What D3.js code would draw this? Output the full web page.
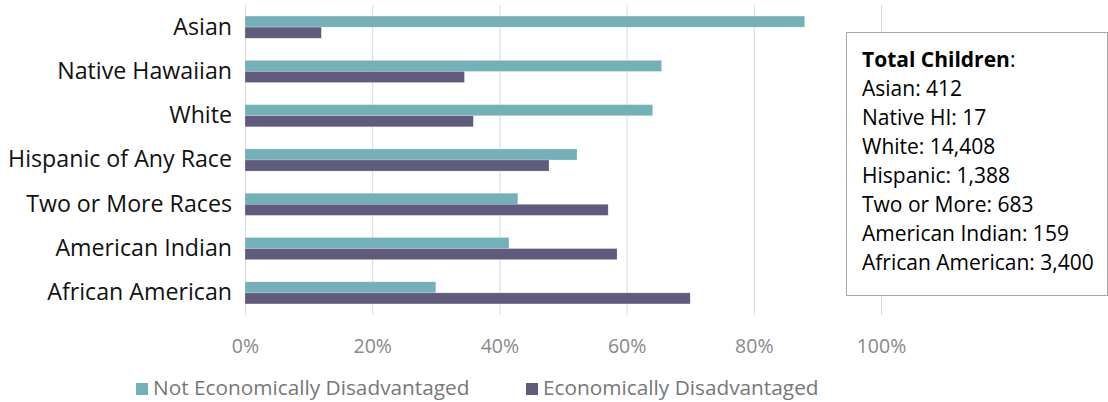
<!DOCTYPE html>
<html>
<head>
<meta charset="utf-8">
<script src="https://cdn.jsdelivr.net/npm/d3@7"></script>
<style>
  html, body { margin: 0; padding: 0; background: #ffffff; }
  svg { display: block; font-family: "Open Sans", "DejaVu Sans", sans-serif; }
</style>
</head>
<body>
<svg id="chart" width="1108" height="402"></svg>
<script>
// ---- data ----
const categories = ["Asian", "Native Hawaiian", "White", "Hispanic of Any Race", "Two or More Races", "American Indian", "African American"];
const seriesNames = ["Not Economically Disadvantaged", "Economically Disadvantaged"];
const notDisadvantaged = [0.88, 0.655, 0.641, 0.522, 0.429, 0.415, 0.30];
const disadvantaged = [0.12, 0.345, 0.359, 0.478, 0.571, 0.585, 0.70];
const tickValues = [0, 0.2, 0.4, 0.6, 0.8, 1.0];
const boxTitle = "Total Children";
const boxLines = ["Asian: 412", "Native HI: 17", "White: 14,408", "Hispanic: 1,388", "Two or More: 683", "American Indian: 159", "African American: 3,400"];
const colors = ["#73b0b7", "#605b7d"];

// ---- layout ----
const svg = d3.select("#chart");
const plot = { left: 245, right: 881, top: 5, bottom: 315 };

const x = d3.scaleLinear().domain([0, 1]).range([plot.left, plot.right]);
const y = d3.scaleBand().domain(categories).range([plot.top, plot.bottom]).paddingInner(0).paddingOuter(0);
const ySub = d3.scaleBand().domain(seriesNames).range([y.bandwidth() * 0.25, y.bandwidth() * 0.75]);

// gridlines
const grid = svg.append("g")
  .attr("transform", `translate(0,${plot.bottom})`)
  .call(d3.axisBottom(x).tickValues(tickValues).tickSize(-(plot.bottom - plot.top)).tickFormat(""));
grid.select(".domain").remove();
grid.selectAll(".tick line").attr("stroke", "#d9d9d9").attr("stroke-width", 1);

// tick labels
const xAxis = svg.append("g")
  .attr("transform", `translate(0,${plot.bottom})`)
  .call(d3.axisBottom(x).tickValues(tickValues).tickSize(0).tickPadding(0).tickFormat(d3.format(".0%")));
xAxis.select(".domain").remove();
xAxis.selectAll(".tick text")
  .attr("y", 31).attr("dy", "0.35em")
  .attr("fill", "#888888")
  .style("font-size", "19.5px")
  .style("font-family", "'Open Sans', sans-serif");

// category labels
const yAxis = svg.append("g")
  .attr("transform", `translate(${plot.left},0)`)
  .call(d3.axisLeft(y).tickSize(0).tickPadding(13));
yAxis.select(".domain").remove();
yAxis.selectAll(".tick text")
  .attr("fill", "#111111")
  .style("font-size", "23.2px")
  .style("font-family", "'Open Sans', sans-serif");

// bars
const series = [notDisadvantaged, disadvantaged];
const groups = svg.append("g").selectAll("g")
  .data(seriesNames)
  .join("g")
  .attr("fill", (d, i) => colors[i]);
groups.selectAll("rect")
  .data((s, si) => categories.map((c, ci) => ({ c, s, v: series[si][ci] })))
  .join("rect")
  .attr("x", x(0))
  .attr("y", d => y(d.c) + ySub(d.s))
  .attr("width", d => x(d.v) - x(0))
  .attr("height", ySub.bandwidth())
  .attr("stroke", "#ffffff")
  .attr("stroke-opacity", 0.35)
  .attr("stroke-width", 0.6);

// text box
const box = svg.append("g");
box.append("rect")
  .attr("x", 846.5).attr("y", 32.5)
  .attr("width", 261).attr("height", 263)
  .attr("fill", "#ffffff")
  .attr("stroke", "#a6a6a6").attr("stroke-width", 1);
const lineH = 29;
const t0 = box.append("text")
  .attr("x", 862).attr("y", 60).attr("dy", "0.35em")
  .style("font-size", "21px").attr("fill", "#000000");
t0.append("tspan").attr("font-weight", "bold").text(boxTitle);
t0.append("tspan").text(":");
box.selectAll("text.line")
  .data(boxLines)
  .join("text")
  .attr("class", "line")
  .attr("x", 862)
  .attr("y", (d, i) => 60 + (i + 1) * lineH)
  .attr("dy", "0.35em")
  .style("font-size", "21px")
  .attr("fill", "#000000")
  .text(d => d);

// legend
const legendX = [136, 526];
const legend = svg.append("g").selectAll("g")
  .data(seriesNames)
  .join("g")
  .attr("transform", (d, i) => `translate(${legendX[i]},0)`);
legend.append("rect")
  .attr("x", 0).attr("y", 383)
  .attr("width", 12).attr("height", 12)
  .attr("fill", (d, i) => colors[i]);
legend.append("text")
  .attr("x", 17).attr("y", 388).attr("dy", "0.35em")
  .attr("fill", "#777777")
  .style("font-size", "20.8px")
  .text(d => d);
</script>
</body>
</html>
